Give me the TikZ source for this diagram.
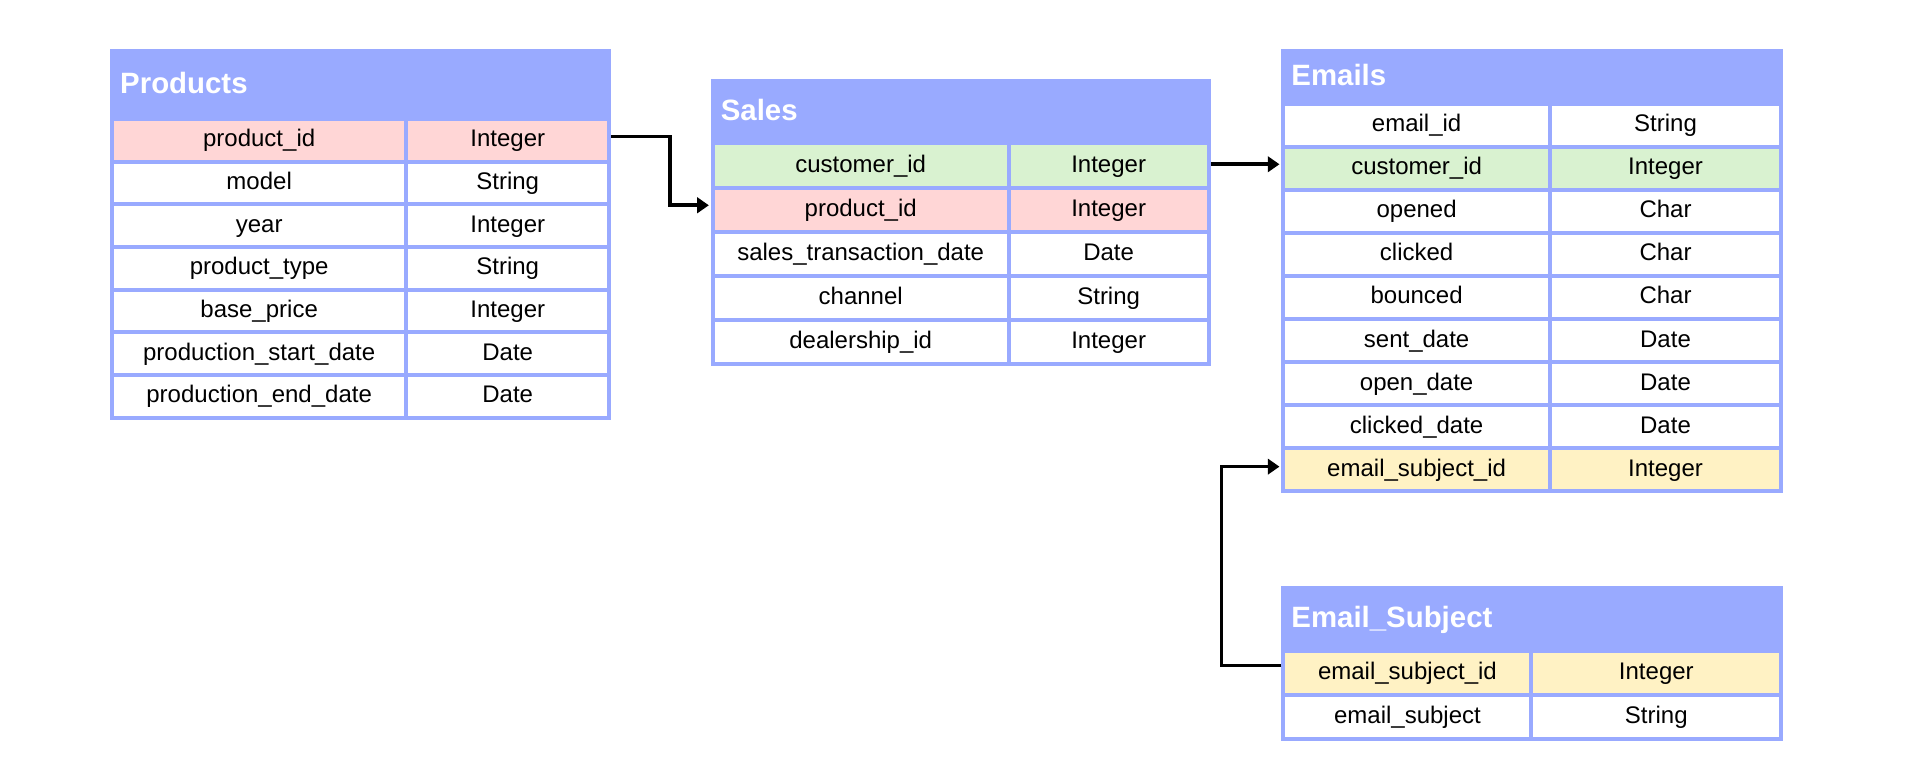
\documentclass[tikz,border=0pt]{standalone}
\usepackage{fontspec}
\setmainfont{Liberation Sans}
\usetikzlibrary{arrows.meta}
\definecolor{hdr}{RGB}{153,170,255}
\definecolor{pinkc}{RGB}{255,214,214}
\definecolor{greenc}{RGB}{217,242,208}
\definecolor{yellowc}{RGB}{255,242,196}
\tikzset{
  hdrbox/.style={rectangle, fill=hdr, draw=hdr, line width=3.3pt, inner sep=0pt},
  titletext/.style={text=white, inner sep=0pt, text height=17pt, text depth=0pt,
    font=\fontsize{24}{28}\selectfont\bfseries},
  cell/.style={rectangle, draw=hdr, line width=3.3pt, inner sep=0pt, text=black,
    text height=13.3pt, text depth=2.6pt, font=\fontsize{19.6}{23}\selectfont},
  conn/.style={draw=black, line width=3pt, -{Triangle[length=9.5pt,width=12.5pt]}}
}
% #1 prefix, #2 xl, #3 xm, #4 xr, #5 top, #6 header bottom, #7 row height, #8 title, #9 rows
\newcommand\ertable[9]{%
  \node[hdrbox, minimum width={#4-#2}, minimum height={#6-#5}, anchor=north west] (#1h) at (#2,#5) {};
  \node[titletext, anchor=west] (#1title) at ({#2+8},{(#5+#6)/2}) {#8};
  \foreach \nm/\ty/\cl [count=\i] in {#9} {
    \node[cell, fill=\cl, minimum width={#3-#2}, minimum height=#7, anchor=north west] (#1\i n) at (#2,{#6+(\i-1)*#7}) {\nm};
    \node[cell, fill=\cl, minimum width={#4-#3}, minimum height=#7, anchor=north west] (#1\i t) at (#3,{#6+(\i-1)*#7}) {\ty};
  }%
}
\begin{document}
\begin{tikzpicture}[x=1pt,y=-1pt]
\useasboundingbox[fill=white] (0,0) rectangle (1568,631);
\ertable{P}{90}{330}{496}{40}{95.5}{34.86}{Products}{%
  product\_id/Integer/pinkc, model/String/white, year/Integer/white,
  product\_type/String/white, base\_price/Integer/white,
  production\_start\_date/Date/white, production\_end\_date/Date/white}
\ertable{S}{580.5}{822}{985.5}{64.5}{115.5}{36}{Sales}{%
  customer\_id/Integer/greenc, product\_id/Integer/pinkc,
  sales\_transaction\_date/Date/white, channel/String/white,
  dealership\_id/Integer/white}
\ertable{E}{1046.5}{1264}{1453}{40}{83}{35.17}{Emails}{%
  email\_id/String/white, customer\_id/Integer/greenc, opened/Char/white,
  clicked/Char/white, bounced/Char/white, sent\_date/Date/white,
  open\_date/Date/white, clicked\_date/Date/white,
  email\_subject\_id/Integer/yellowc}
\ertable{Q}{1046.5}{1249}{1453}{478.5}{530}{35.75}{Email\_Subject}{%
  email\_subject\_id/Integer/yellowc, email\_subject/String/white}
% connectors
\draw[conn] ([yshift=3pt]P1t.east) -- ++(48,0) |- ([xshift=-1.6pt,yshift=3.5pt]S2n.west);
\draw[conn] ([yshift=1pt]S1t.east) -- ([xshift=-1.6pt,yshift=1pt]S1t.east -| E2n.west);
\draw[conn] ([yshift=6pt]Q1n.west) -- ++(-49,0) |- ([xshift=-1.6pt,yshift=2.5pt]E9n.west);
\end{tikzpicture}
\end{document}
